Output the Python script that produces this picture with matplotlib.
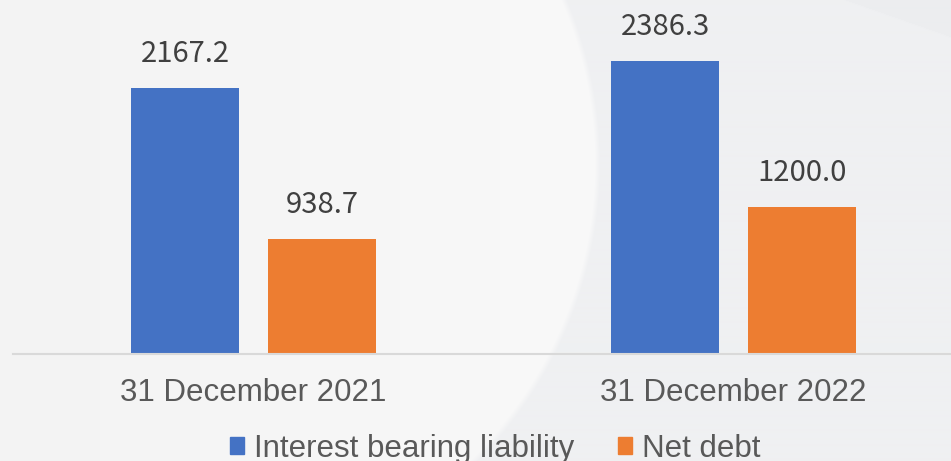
import numpy as np
import matplotlib.pyplot as plt
from matplotlib.patches import Patch

# balances in RMB 100 million
periods = ["31 December 2021", "31 December 2022"]
series_names = ["Interest bearing liability", "Net debt"]
liability = [2167.2, 2386.3]
net_debt = [938.7, 1200.0]

colors = ["#4472C4", "#ED7D31"]
W, H = 951, 461

fig = plt.figure(figsize=(W / 100, H / 100), dpi=100)

# soft slide background: grey with a pale arc on the left
yy, xx = np.mgrid[0:H, 0:W]
bg = np.empty((H, W, 3))
dist = np.hypot(xx - 180, yy - 164)
edge = np.clip((420 - dist) / 6, 0, 1)
t = np.clip(xx / 600, 0, 1)
pale = 243 + 6 * t
for k, base in enumerate((239, 240, 242)):
    bg[..., k] = (base + (pale - base) * edge) / 255
band = (yy < (xx - 843) * 0.35) & (dist >= 420)
bg[band] = np.array([236, 237, 239]) / 255
bga = fig.add_axes([0, 0, 1, 1], zorder=-1)
bga.imshow(bg, aspect="auto", interpolation="bilinear")
bga.axis("off")

ax = fig.add_axes([13 / W, (H - 354) / H, 1 - 13 / W, 354 / H])
ax.patch.set_alpha(0)

x = np.arange(len(periods))
width = 0.225
offset = 0.1427
bars1 = ax.bar(x - offset, liability, width, color=colors[0])
bars2 = ax.bar(x + offset, net_debt, width, color=colors[1])

for bars, vals in ((bars1, liability), (bars2, net_debt)):
    for b, v in zip(bars, vals):
        ax.annotate(f"{v:.1f}", (b.get_x() + b.get_width() / 2, v),
                    xytext=(0, 24.5), textcoords="offset points",
                    ha="center", va="center", fontsize=21, fontweight="light",
                    family=["Noto Sans CJK SC", "DejaVu Sans"], color="#404040")

ax.set_xlim(-0.501, 1.453)
ax.set_ylim(0, 2885)
ax.set_yticks([])
ax.set_xticks(x, periods, fontsize=22.5, family="Liberation Sans", color="#595959")
ax.tick_params(axis="x", length=0, pad=17)
for side in ("top", "right", "left"):
    ax.spines[side].set_visible(False)
ax.spines["bottom"].set_color("#D9D9D9")
ax.spines["bottom"].set_linewidth(1.5)

handles = [Patch(color=c, label=n) for c, n in zip(colors, series_names)]
fig.legend(handles=handles, loc="center", bbox_to_anchor=(0.521, 0.027), ncol=2,
           frameon=False, handlelength=0.45, handleheight=0.45, handletextpad=0.32,
           columnspacing=1.4, prop={"family": "Liberation Sans", "size": 22.5},
           labelcolor="#595959")

fig.savefig("out.png", dpi=100)
